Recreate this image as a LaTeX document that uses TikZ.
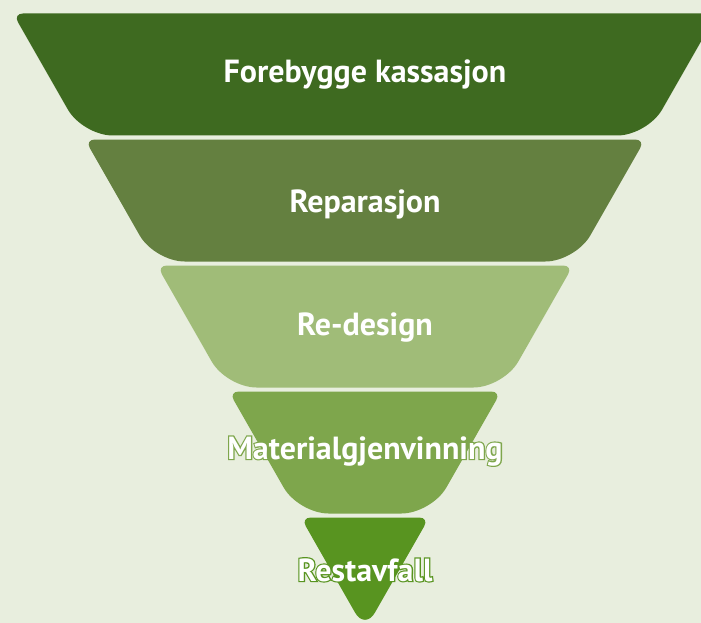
\documentclass[tikz,border=0pt]{standalone}
\usepackage{fontspec}
\setmainfont{PT Sans}

\definecolor{backgreen}{RGB}{232,238,222}
\definecolor{levelone}{RGB}{62,106,32}
\definecolor{leveltwo}{RGB}{100,128,64}
\definecolor{levelthree}{RGB}{160,188,120}
\definecolor{levelfour}{RGB}{126,166,76}
\definecolor{levelfive}{RGB}{88,148,32}

% white text on a wide green rim
\newcommand{\rimtext}[2]{\rlap{\special{pdf:literal direct 1 Tr 2.4 w #1 RG}#2\special{pdf:literal direct 0 Tr}}#2}

\begin{document}
\begin{tikzpicture}[x=1pt,y=-1pt]
	\tikzset{leveltext/.style={text=white, font=\bfseries\fontsize{32}{36}\selectfont, inner sep=0pt, anchor=base}}

	\fill [backgreen] (0,0) rectangle (701,623);
	\useasboundingbox (0,0) rectangle (701,623);

	\fill [levelone] (365,13.5) [rounded corners=10pt] -- (717,13.5) [rounded corners=30pt] -- (647.3,135.5) -- (82.7,135.5) [rounded corners=10pt] -- (13,13.5) -- cycle;
	\fill [leveltwo] (365,139.5) [rounded corners=10pt] -- (645.1,139.5) [rounded corners=30pt] -- (575.4,261.5) -- (154.6,261.5) [rounded corners=10pt] -- (84.9,139.5) -- cycle;
	\fill [levelthree] (365,265.5) [rounded corners=10pt] -- (573.1,265.5) [rounded corners=30pt] -- (503.5,387.5) -- (226.5,387.5) [rounded corners=10pt] -- (156.9,265.5) -- cycle;
	\fill [levelfour] (365,391.5) [rounded corners=10pt] -- (501.2,391.5) [rounded corners=30pt] -- (431.5,513.5) -- (298.5,513.5) [rounded corners=10pt] -- (228.8,391.5) -- cycle;
	\fill [levelfive] (365,517.5) [rounded corners=10pt] -- (429.2,517.5) [rounded corners=20pt] -- (365,630) [rounded corners=10pt] -- (300.8,517.5) -- cycle;

	\node [leveltext] (prevent) at (365,83) {Forebygge kassasjon};
	\node [leveltext] (repair) at (365,212) {Reparasjon};
	\node [leveltext] (redesign) at (365,335) {Re-design};
	\node [leveltext] (recycle) at (365,459) {\rimtext{0.494 0.651 0.298}{Materialgjenvinning}};
	\node [leveltext] (residual) at (365,581) {\rimtext{0.345 0.580 0.125}{Restavfall}};
\end{tikzpicture}
\end{document}
